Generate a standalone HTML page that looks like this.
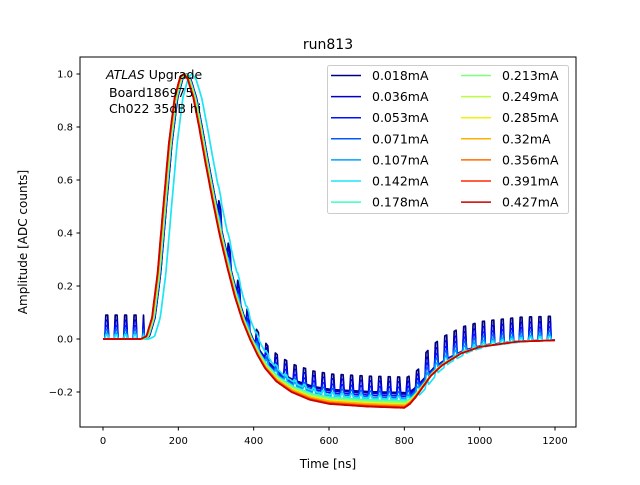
<!DOCTYPE html>
<html><head><meta charset="utf-8"><style>
body{margin:0;background:#fff}
svg text{font-family:"DejaVu Sans","Liberation Sans",sans-serif;}
</style></head><body>
<svg id="c" width="640" height="480" viewBox="0 0 640 480" xmlns="http://www.w3.org/2000/svg">
<rect width="640" height="480" fill="#fff"/>
<g id="series"></g>
<rect x="80" y="57" width="496" height="370" fill="none" stroke="#000" stroke-width="1"/>
<g id="axes"></g>
<text x="328" y="49" font-size="14" text-anchor="middle">run813</text>
<text x="328" y="468" font-size="12" text-anchor="middle">Time [ns]</text>
<text transform="translate(27,242) rotate(-90)" font-size="12" text-anchor="middle">Amplitude [ADC counts]</text>
<g font-size="12.5">
<text x="106" y="79"><tspan font-style="italic">ATLAS</tspan> Upgrade</text>
<text x="109" y="97">Board186975</text>
<text x="109" y="113">Ch022 35dB hi</text>
</g>
<g id="legend"></g>
</svg>
<script>
const currents=["0.018mA","0.036mA","0.053mA","0.071mA","0.107mA","0.142mA","0.178mA","0.213mA","0.249mA","0.285mA","0.32mA","0.356mA","0.391mA","0.427mA"];
const colors=["#00007f","#0000c8","#0010ff","#0058ff","#00a0ff","#1ae5f5","#3dffba","#7cff79","#b9ff3d","#f5f10a","#ffb000","#ff6c00","#ff2800","#c80000"];
const shapeT=[0,100,115,130,145,160,175,190,205,215,225,240,255,270,290,310,330,350,370,390,410,430,460,500,550,600,700,800,815,830,850,870,900,950,1000,1100,1200];
const shapeV=[0,0,0.01,0.08,0.25,0.5,0.74,0.91,0.99,1.0,0.98,0.91,0.8,0.68,0.53,0.39,0.27,0.16,0.07,0.0,-0.06,-0.11,-0.16,-0.2,-0.23,-0.245,-0.255,-0.26,-0.245,-0.22,-0.18,-0.14,-0.1,-0.055,-0.03,-0.01,-0.005];
const shifts=[8,8,6,5,6,22,6,4,3,2,2,1,0,0];
const underScale=[0.78,0.8,0.83,0.86,0.88,0.88,0.9,0.92,0.94,0.95,0.96,0.98,0.99,1.0];
const ripple=[0.09,0.07,0.05,0.035,0.02,0.015,0,0,0,0,0,0,0,0];
const xTicks=[0,200,400,600,800,1000,1200];
const yTicks=[-0.2,0,0.2,0.4,0.6,0.8,1.0];
const xs=t=>103+t*(452/1200);
const ys=v=>339-v*265;
const NS="http://www.w3.org/2000/svg";
function mk(tag,attrs,parent){const e=document.createElementNS(NS,tag);for(const k in attrs)e.setAttribute(k,attrs[k]);parent.appendChild(e);return e;}
function base(t){if(t<=shapeT[0])return shapeV[0];for(let i=1;i<shapeT.length;i++){if(t<=shapeT[i]){const f=(t-shapeT[i-1])/(shapeT[i]-shapeT[i-1]);return shapeV[i-1]+f*(shapeV[i]-shapeV[i-1]);}}return shapeV[shapeV.length-1];}
const sg=document.getElementById('series');
currents.forEach((c,i)=>{
  let d="";
  for(let t=0;t<=1200;t+=2.5){
    let v=base(t-shifts[i]);
    if(v<0)v*=underScale[i];
    const ph=t%25;
    if(ripple[i]>0&&(t<110||t>300)&&ph>=7.5&&ph<15){
      v+=ripple[i]*((t>300&&t<850)?0.65:1);
    }
    d+=(d?"L":"M")+xs(t).toFixed(1)+","+ys(v).toFixed(1);
  }
  const p=mk('path',{d:d,fill:"none",stroke:colors[i],"stroke-width":1.7,"stroke-linejoin":"round"},sg);
  
  
});
const ax=document.getElementById('axes');
xTicks.forEach(t=>{
  const l=mk('line',{x1:xs(t),x2:xs(t),y1:427,y2:430.5,stroke:"#000"},ax);
  
  
  const tx=mk('text',{x:xs(t),y:444,"font-size":10,"text-anchor":"middle"},ax);
  tx.textContent=t;
  
  
});
yTicks.forEach(v=>{
  const l=mk('line',{x1:76.5,x2:80,y1:ys(v),y2:ys(v),stroke:"#000"},ax);
  
  
  const tx=mk('text',{x:73,y:ys(v)+3.5,"font-size":10,"text-anchor":"end"},ax);
  tx.textContent=(v<0?"\u2212":"")+Math.abs(v).toFixed(1);
  
  
});
const lg=document.getElementById('legend');
mk('rect',{x:327.5,y:65.5,width:241,height:148,rx:2,fill:"#fff","fill-opacity":0.8,stroke:"#ccc"},lg);
currents.forEach((c,i)=>{
  const col=Math.floor(i/7),row=i%7;
  const x0=331+col*130,y0=75.5+row*21.1;
  const l=mk('line',{x1:x0,x2:x0+30,y1:y0,y2:y0,stroke:colors[i],"stroke-width":1.5},lg);
  
  
  const tx=mk('text',{x:x0+41,y:y0+4.5,"font-size":12.5},lg);
  tx.textContent=c;
  
  
});
</script>
</body></html>
